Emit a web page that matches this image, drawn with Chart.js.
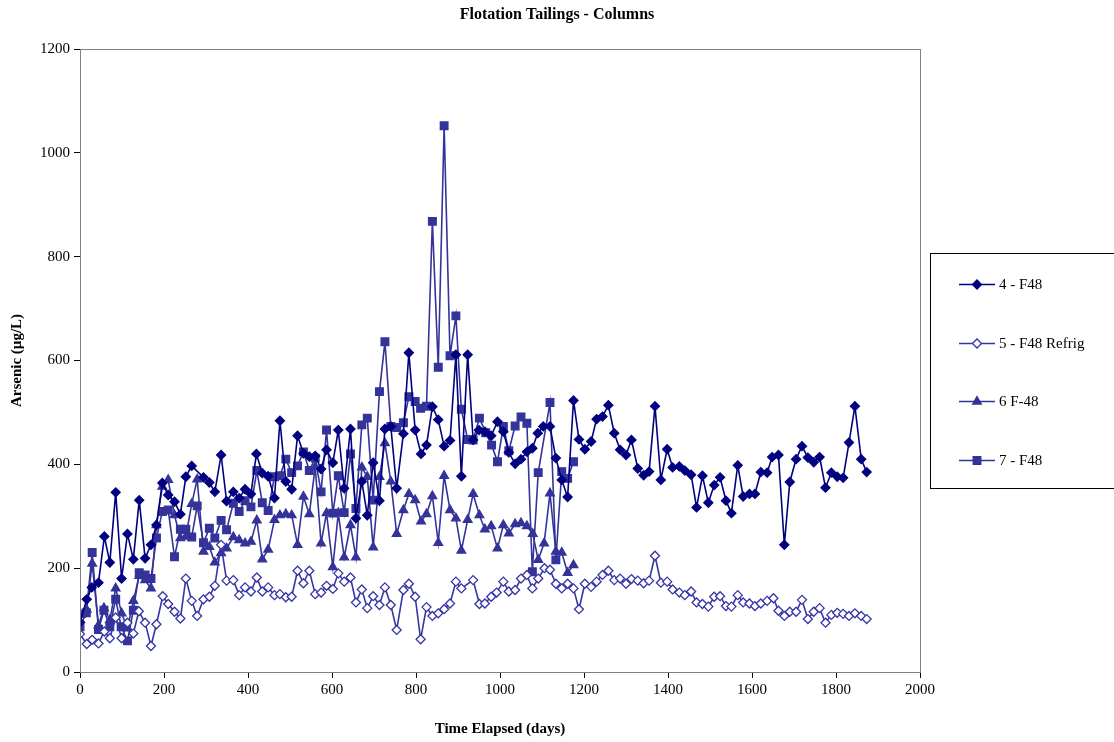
<!DOCTYPE html>
<html>
<head>
<meta charset="utf-8">
<title>Flotation Tailings - Columns</title>
<script src="https://cdn.jsdelivr.net/npm/chart.js@4.4.1/dist/chart.umd.min.js"></script>
<style>
  html, body { margin: 0; padding: 0; background: #fff; }
  #wrap { width: 1114px; height: 742px; position: relative; }
</style>
</head>
<body>
<div id="wrap"><canvas id="chartTailings"></canvas></div>
<script>
// column 4 - F48
var days4 = [0,16,28,44,58,71,85,99,113,127,141,155,169,182,196,210,225,239,252,266,294,308,321,336,349,365,379,393,407,420,434,448,463,476,490,504,518,532,546,560,574,587,602,615,629,644,657,671,684,698,713,726,740,754,770,783,798,812,825,839,853,867,881,895,908,923,936,950,964,979,994,1008,1021,1036,1050,1064,1077,1090,1103,1119,1133,1147,1161,1175,1188,1202,1217,1230,1244,1258,1272,1286,1300,1313,1328,1342,1355,1369,1383,1398,1411,1427,1440,1455,1468,1482,1496,1510,1524,1538,1551,1566,1579,1594,1607,1621,1636,1648,1663,1677,1690,1705,1719,1733,1747,1761,1775,1789,1803,1817,1831,1845,1860,1873];
var arsenic4 = [96,140,163,172,261,211,346,180,266,217,331,219,245,283,364,341,328,304,376,397,375,365,347,418,329,347,335,352,343,420,383,377,335,484,367,352,455,421,415,416,391,428,403,466,354,468,296,367,302,403,330,468,473,354,459,615,466,420,437,511,486,435,446,611,377,611,447,466,463,455,482,463,423,401,410,424,431,460,473,473,412,370,337,523,448,429,444,487,492,514,460,428,418,447,392,379,386,512,370,429,394,396,388,380,317,378,326,360,375,330,306,398,338,343,343,385,384,414,418,245,366,410,435,413,404,414,355,384,376,374,442,512,410,385];

// column 5 - F48 refrigerated
var days5 = [0,16,29,44,58,71,85,99,113,127,140,155,169,182,197,210,225,239,252,266,279,294,308,321,336,349,365,379,393,407,421,434,448,463,476,490,504,518,532,546,560,574,587,602,615,629,644,657,671,684,698,713,726,740,754,770,783,798,811,825,839,853,867,881,895,908,936,951,964,979,992,1008,1021,1036,1050,1064,1077,1091,1106,1119,1133,1147,1161,1175,1188,1202,1217,1230,1244,1258,1272,1286,1300,1313,1328,1342,1355,1369,1383,1398,1411,1427,1440,1455,1468,1482,1496,1510,1524,1538,1551,1566,1579,1594,1607,1621,1636,1651,1663,1677,1690,1705,1719,1733,1747,1761,1775,1789,1803,1817,1831,1845,1860,1873];
var arsenic5 = [73,54,62,55,78,65,105,65,95,74,117,95,50,92,146,131,116,103,180,137,108,140,145,166,245,176,177,148,163,155,182,155,163,148,150,144,145,195,171,195,150,153,166,160,190,174,182,134,159,123,146,129,163,129,81,158,170,145,63,125,108,113,121,132,174,161,177,131,132,145,153,174,155,158,180,187,161,180,200,197,170,161,170,161,121,170,164,174,187,195,177,180,170,179,176,171,176,224,172,174,159,153,148,155,134,131,126,145,146,127,126,148,134,132,127,132,137,142,118,108,116,116,139,102,116,123,95,110,114,112,108,113,108,102];

// column 6 F-48
var days6 = [2,16,29,44,57,71,85,99,113,127,141,155,169,182,196,210,225,239,252,266,279,294,308,321,336,349,365,379,393,407,421,434,448,463,476,490,504,518,532,546,560,574,587,602,615,629,644,657,671,684,698,713,726,740,754,770,783,798,812,825,839,853,867,881,895,908,923,936,951,964,979,994,1008,1021,1036,1050,1064,1078,1091,1105,1119,1133,1147,1161,1175];
var arsenic6 = [110,120,209,90,123,100,161,113,84,137,185,177,161,283,357,370,302,258,261,324,371,232,241,211,229,238,260,254,248,251,292,217,236,293,302,304,302,245,338,304,395,248,306,202,306,221,283,221,394,376,240,376,441,367,266,312,343,331,290,304,339,249,378,312,296,234,293,343,302,275,281,238,283,267,285,287,281,266,216,248,344,232,230,191,206];

// column 7 - F48
var days7 = [0,15,29,44,57,71,85,98,113,127,141,155,169,182,196,210,225,239,252,266,279,294,308,321,336,349,365,379,393,407,421,434,448,463,476,490,504,518,532,546,560,574,587,602,615,629,644,657,671,684,698,713,726,740,754,770,783,798,811,825,839,853,867,881,895,908,923,936,951,966,980,994,1008,1021,1036,1050,1064,1077,1091,1119,1133,1147,1161,1175];
var arsenic7 = [87,114,230,82,119,87,140,87,60,119,191,187,180,258,309,312,222,275,275,260,320,249,277,258,292,274,325,309,330,318,388,326,311,376,378,410,384,397,424,388,412,347,466,306,378,307,420,315,476,489,331,540,636,473,471,480,530,521,508,512,868,587,1052,609,686,506,448,447,489,461,437,405,473,426,474,491,479,193,384,519,216,386,373,405];

var xTicks = [0, 200, 400, 600, 800, 1000, 1200, 1400, 1600, 1800, 2000];
var yTicks = [0, 200, 400, 600, 800, 1000, 1200];

var chartTitle = 'Flotation Tailings - Columns';
var serif = "'Liberation Serif', 'Times New Roman', serif";

function pairs(days, vals) {
    return days.map(function (d, i) { return { x: d, y: vals[i] }; });
}

function series(label, days, vals, color, style, radius, fill) {
    return {
        label: label,
        data: pairs(days, vals),
        borderColor: color,
        backgroundColor: color,
        borderWidth: 1.6,
        pointStyle: style,
        pointRadius: radius,
        pointHoverRadius: radius,
        pointBackgroundColor: fill,
        pointBorderColor: color,
        pointBorderWidth: 1.3,
        tension: 0
    };
}

// title over the whole canvas, plot frame and the legend box on the right
var sideLegend = {
    id: 'sideLegend',
    afterDraw: function (chart) {
        var ctx = chart.ctx;
        var area = chart.chartArea;
        ctx.save();
        ctx.fillStyle = '#000';
        ctx.font = 'bold 16px ' + serif;
        ctx.textAlign = 'center';
        ctx.textBaseline = 'middle';
        ctx.fillText(chartTitle, chart.width / 2, 15);

        ctx.strokeStyle = '#808080';
        ctx.lineWidth = 1;
        ctx.strokeRect(area.left + 0.5, area.top + 0.5, area.right - area.left, area.bottom - area.top);

        ctx.strokeStyle = '#000';
        ctx.strokeRect(930.5, 253.5, 200, 235);
        var rows = [284, 343, 401, 460];
        chart.data.datasets.forEach(function (ds, i) {
            var y = rows[i];
            ctx.strokeStyle = ds.borderColor;
            ctx.lineWidth = 1.6;
            ctx.beginPath();
            ctx.moveTo(959, y + 0.5);
            ctx.lineTo(995, y + 0.5);
            ctx.stroke();
            ctx.fillStyle = ds.pointBackgroundColor;
            ctx.lineWidth = ds.pointBorderWidth;
            Chart.helpers.drawPoint(ctx, {
                pointStyle: ds.pointStyle,
                radius: ds.pointRadius,
                borderWidth: ds.pointBorderWidth
            }, 977, y + 0.5);
            ctx.fillStyle = '#000';
            ctx.font = '15px ' + serif;
            ctx.textBaseline = 'middle';
            ctx.textAlign = 'left';
            ctx.fillText(ds.label, 999, y + 1);
        });
        ctx.restore();
    }
};

var ctx = document.getElementById('chartTailings');

var tailings = new Chart(ctx, {
    type: 'line',
    data: {
        datasets: [
            series('4 - F48', days4, arsenic4, '#000080', 'rectRot', 4.5, '#000080'),
            series('5 - F48 Refrig', days5, arsenic5, '#3535a5', 'rectRot', 4.5, '#ffffff'),
            series('6 F-48', days6, arsenic6, '#333399', 'triangle', 5, '#333399'),
            series('7 - F48', days7, arsenic7, '#333399', 'rect', 5.4, '#333399')
        ]
    },
    options: {
        responsive: true,
        maintainAspectRatio: false,
        animation: false,
        layout: { padding: { top: 49, right: 194, left: 0, bottom: 0 } },
        plugins: {
            legend: { display: false },
            tooltip: { enabled: false },
            title: { display: false }
        },
        scales: {
            x: {
                type: 'linear',
                min: 0,
                max: 2000,
                afterBuildTicks: function (scale) {
                    scale.ticks = xTicks.map(function (v) { return { value: v }; });
                },
                afterFit: function (scale) { scale.height = 70; },
                grid: { display: true, drawOnChartArea: false, drawTicks: true, tickLength: 6, color: '#000' },
                border: { display: true, color: '#000', width: 1 },
                ticks: {
                    color: '#000',
                    font: { family: serif, size: 15 },
                    padding: 3,
                    maxRotation: 0,
                    callback: function (v) { return String(v); }
                },
                title: {
                    display: true,
                    text: 'Time Elapsed (days)',
                    color: '#000',
                    font: { family: serif, size: 15, weight: 'bold' },
                    padding: { top: 9 }
                }
            },
            y: {
                type: 'linear',
                min: 0,
                max: 1200,
                afterBuildTicks: function (scale) {
                    scale.ticks = yTicks.map(function (v) { return { value: v }; });
                },
                afterFit: function (scale) { scale.width = 80; },
                grid: { display: true, drawOnChartArea: false, drawTicks: true, tickLength: 6, color: '#000' },
                border: { display: true, color: '#000', width: 1 },
                ticks: {
                    color: '#000',
                    font: { family: serif, size: 15 },
                    padding: 4,
                    callback: function (v) { return String(v); }
                },
                title: {
                    display: true,
                    text: 'Arsenic (µg/L)',
                    color: '#000',
                    font: { family: serif, size: 15, weight: 'bold' },
                    padding: { top: 8, bottom: 0 }
                }
            }
        }
    },
    plugins: [sideLegend]
});
</script>
</body>
</html>
